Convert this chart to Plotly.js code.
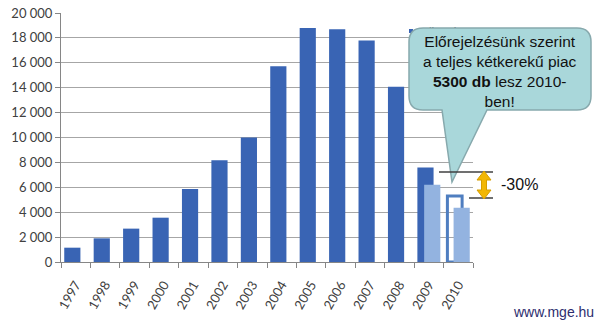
<!DOCTYPE html>
<html>
<head>
<meta charset="utf-8">
<script src="https://cdn.plot.ly/plotly-3.0.1.min.js"></script>
<style>html,body{margin:0;padding:0;background:#fff;}#chart{width:600px;height:320px;}</style>
</head>
<body>
<div id="chart"></div>
<script>
// ---- data ----
const years = ['1997','1998','1999','2000','2001','2002','2003','2004','2005','2006','2007','2008','2009','2010'];
const actualYears = ['1997','1998','1999','2000','2001','2002','2003','2004','2005','2006','2007','2008','2009'];
const actualValues = [1150, 1900, 2680, 3560, 5860, 8170, 10000, 15720, 18800, 18700, 17800, 14080, 7600];
const lightYears = ['2009','2010'];
const lightValues = [6210, 4360];
const forecastYears = ['2010'];
const forecastValues = [5300];
const yTicks = [0, 2000, 4000, 6000, 8000, 10000, 12000, 14000, 16000, 18000, 20000];

// ---- layout helpers (pixel -> paper) ----
const L = 61, R = 127, T = 13, B = 58, W = 600, H = 320;
const pw = W - L - R, ph = H - T - B;
const px = x => (x - L) / pw;
const py = y => (H - B - y) / ph;

const traces = [
  {type:'bar', x: actualYears, y: actualValues, name:'Teljes piac',
   marker:{color:'#3964b4'}, width:0.55, offset:-0.39, hoverinfo:'x+y'},
  {type:'bar', x: forecastYears, y: forecastValues, name:'Előrejelzés',
   marker:{color:'rgba(0,0,0,0)', line:{color:'#4f7ec0', width:3}}, width:0.5, offset:-0.37},
  {type:'bar', x: lightYears, y: lightValues, name:'Motorkerékpár',
   marker:{color:'#93b3e0'}, width:0.55, offset:-0.16}
];

// callout path
const cx0 = 409, cx1 = 591, cy0 = 28, cy1 = 110, r = 14;
const P = (x,y) => px(x) + ',' + py(y);
const callout = 'M' + P(cx0+r,cy0) + ' L' + P(cx1-r,cy0) + ' Q' + P(cx1,cy0) + ' ' + P(cx1,cy0+r) +
  ' L' + P(cx1,cy1-r) + ' Q' + P(cx1,cy1) + ' ' + P(cx1-r,cy1) +
  ' L' + P(487,cy1) + ' L' + P(452,182) + ' L' + P(442,cy1) +
  ' L' + P(cx0+r,cy1) + ' Q' + P(cx0,cy1) + ' ' + P(cx0,cy1-r) +
  ' L' + P(cx0,cy0+r) + ' Q' + P(cx0,cy0) + ' ' + P(cx0+r,cy0) + ' Z';

// double arrow
const ax = 484;
const arrow = 'M' + P(ax,171) + ' L' + P(ax+7,180) + ' L' + P(ax+2.5,180) + ' L' + P(ax+2.5,190) +
  ' L' + P(ax+7,190) + ' L' + P(ax,199) + ' L' + P(ax-7,190) + ' L' + P(ax-2.5,190) +
  ' L' + P(ax-2.5,180) + ' L' + P(ax-7,180) + ' Z';

const shapes = [
  {type:'rect', xref:'paper', yref:'paper', x0:px(409), x1:px(413), y0:py(33), y1:py(29),
   fillcolor:'#3964b4', line:{width:0}, layer:'above'},
  {type:'rect', xref:'paper', yref:'paper', x0:px(415), x1:px(470), y0:py(37), y1:py(25),
   fillcolor:'rgba(0,0,0,0)', line:{width:0}, layer:'above',
   label:{text:'Teljes piac', textposition:'middle left', padding:0,
          font:{family:'Lato, sans-serif', size:11, color:'#404040'}}},
  {type:'path', xref:'paper', yref:'paper', path: callout,
   fillcolor:'#a9d7da', line:{color:'#87a9ad', width:1.5}, layer:'above'},
  {type:'line', xref:'paper', yref:'paper', x0:px(439), x1:px(493), y0:py(172), y1:py(172),
   line:{color:'#404040', width:1.5}, layer:'above'},
  {type:'line', xref:'paper', yref:'paper', x0:px(469), x1:px(493), y0:py(198), y1:py(198),
   line:{color:'#404040', width:1.5}, layer:'above'},
  {type:'path', xref:'paper', yref:'paper', path: arrow,
   fillcolor:'#f2b705', line:{color:'#d69e00', width:1}, layer:'above'}
];

const annotations = [
  {xref:'paper', yref:'paper', x:px(500), y:py(71), xanchor:'center', yanchor:'middle',
   showarrow:false, align:'center',
   text:'Előrejelzésünk szerint<br>a teljes kétkerekű piac<br><b>5300 db</b> lesz 2010-<br>ben!',
   font:{family:'Arial, Liberation Sans, sans-serif', size:15.5, color:'#111'}},
  {xref:'paper', yref:'paper', x:px(499), y:py(185), xanchor:'left', yanchor:'middle',
   showarrow:false, text:'-30%',
   font:{family:'Arial, Liberation Sans, sans-serif', size:16, color:'#111'}},
  {xref:'paper', yref:'paper', x:px(596), y:py(312), xanchor:'right', yanchor:'middle',
   showarrow:false, text:'www.mge.hu',
   font:{family:'Arial, Liberation Sans, sans-serif', size:14, color:'#2d2d6e'}}
];

const layout = {
  width: W, height: H,
  margin:{l:L, r:R, t:T, b:B, pad:0},
  paper_bgcolor:'#fff', plot_bgcolor:'#fff',
  separators:', ',
  barmode:'overlay',
  showlegend:false,
  xaxis:{type:'category', categoryorder:'array', categoryarray: years,
    range:[-0.5, years.length-0.5],
    tickangle:-60, tickson:'boundaries', ticks:'outside', ticklen:5, tickcolor:'#868686',
    ticklabelstandoff:9,
    showline:true, linecolor:'#868686', linewidth:1, showgrid:false, zeroline:false,
    tickfont:{family:'Lato, sans-serif', size:13, color:'#404040'}},
  yaxis:{range:[0,20000], tickvals: yTicks, tickformat:',d',
    ticks:'outside', ticklen:5, tickcolor:'#868686',
    showline:true, linecolor:'#868686', linewidth:1,
    showgrid:true, gridcolor:'#a6a6a6', gridwidth:1, zeroline:false,
    tickfont:{family:'Lato, sans-serif', size:13, color:'#404040'}},
  shapes: shapes,
  annotations: annotations
};

Plotly.newPlot('chart', traces, layout, {staticPlot:true, displayModeBar:false});
</script>
</body>
</html>
